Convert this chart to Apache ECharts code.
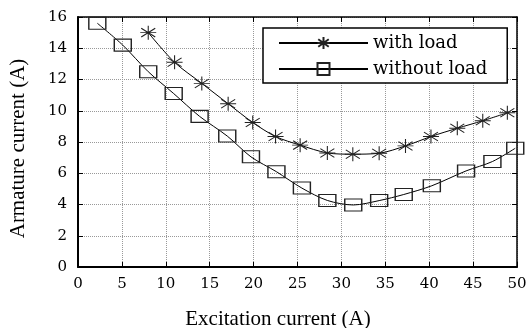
<!DOCTYPE html>
<html><head><meta charset="utf-8">
<script src="https://cdn.jsdelivr.net/npm/echarts@6/dist/echarts.min.js"></script>
<style>html,body{margin:0;padding:0;background:#fff}#c{width:530px;height:328px}</style>
</head><body><div id="c"></div>
<script>
// ---- data ----
const xTicks = [0, 5, 10, 15, 20, 25, 30, 35, 40, 45, 50];
const yTicks = [0, 2, 4, 6, 8, 10, 12, 14, 16];
const seriesNames = ['with load', 'without load'];
const withLoadX = [8.0, 11.0, 14.1, 17.1, 19.9, 22.5, 25.3, 28.4, 31.3, 34.3, 37.3, 40.2, 43.2, 46.1, 48.9];
const withLoadY = [15.0, 13.1, 11.75, 10.45, 9.25, 8.35, 7.8, 7.3, 7.22, 7.28, 7.75, 8.35, 8.88, 9.36, 9.87];
const withoutLoadX = [2.2, 5.1, 8.0, 10.9, 13.85, 17.0, 19.7, 22.6, 25.5, 28.4, 31.35, 34.3, 37.1, 40.3, 44.2, 47.2, 49.8];
const withoutLoadY = [15.6, 14.2, 12.5, 11.1, 9.64, 8.38, 7.05, 6.1, 5.05, 4.26, 3.97, 4.25, 4.64, 5.2, 6.15, 6.75, 7.6];
const xTitle = 'Excitation current (A)';
const yTitle = 'Armature current (A)';

const zip = (a, b) => a.map((v, i) => [v, b[i]]);
const starPath = 'path://M8,0 L8,16 M1,3 L15,13 M1,13 L15,3 M0,8 L16,8';
const tickFont = {fontFamily: 'DejaVu Serif', fontSize: 15, color: '#000'};
const titleFont = {fontFamily: 'Liberation Serif', fontSize: 21, color: '#000'};
const xMin = xTicks[0], xMax = xTicks[xTicks.length - 1], xInt = xTicks[1] - xTicks[0];
const yMin = yTicks[0], yMax = yTicks[yTicks.length - 1], yInt = yTicks[1] - yTicks[0];

const chart = echarts.init(document.getElementById('c'), null, {renderer: 'canvas'});
chart.setOption({
  animation: false,
  backgroundColor: '#fff',
  grid: {left: 78, right: 13, top: 17, bottom: 61, containLabel: false, outerBoundsMode: 'none'},
  legend: {
    orient: 'vertical', left: 263, top: 28,
    itemWidth: 89, itemHeight: 15, itemGap: 8,
    padding: [6, 20, 5, 15],
    backgroundColor: '#fff', borderColor: '#000', borderWidth: 1.5,
    textStyle: {fontFamily: 'DejaVu Serif', fontSize: 18, color: '#000'},
    data: seriesNames
  },
  xAxis: [{
    type: 'value', min: xMin, max: xMax, interval: xInt, position: 'bottom',
    axisLine: {show: true, onZero: false, lineStyle: {color: '#000', width: 2}},
    axisTick: {show: true, inside: true, length: 5, lineStyle: {color: '#000'}},
    axisLabel: Object.assign({margin: 10}, tickFont),
    splitLine: {show: true, lineStyle: {color: '#999', type: [1, 1], width: 1}},
    name: xTitle, nameLocation: 'middle', nameGap: 42,
    nameTextStyle: Object.assign({padding: [0, 39, 0, 0]}, titleFont)
  }, {
    type: 'value', min: xMin, max: xMax, interval: xInt, position: 'top',
    axisLine: {show: true, onZero: false, lineStyle: {color: '#000', width: 1.5}},
    axisTick: {show: true, inside: true, length: 5, lineStyle: {color: '#000'}},
    axisLabel: {show: false}, splitLine: {show: false}
  }],
  yAxis: [{
    type: 'value', min: yMin, max: yMax, interval: yInt, position: 'left',
    axisLine: {show: true, onZero: false, lineStyle: {color: '#000', width: 2}},
    axisTick: {show: true, inside: true, length: 5, lineStyle: {color: '#000'}},
    axisLabel: Object.assign({margin: 11}, tickFont),
    splitLine: {show: true, lineStyle: {color: '#999', type: [1, 1], width: 1}},
    name: yTitle, nameLocation: 'middle', nameGap: 49,
    nameTextStyle: Object.assign({padding: [0, 13, 0, 0]}, titleFont)
  }, {
    type: 'value', min: yMin, max: yMax, interval: yInt, position: 'right',
    axisLine: {show: true, onZero: false, lineStyle: {color: '#000', width: 1.5}},
    axisTick: {show: true, inside: true, length: 5, lineStyle: {color: '#000'}},
    axisLabel: {show: false}, splitLine: {show: false}
  }],
  series: [{
    name: seriesNames[0], type: 'line', xAxisIndex: 0, yAxisIndex: 0,
    data: zip(withLoadX, withLoadY), smooth: 0.3,
    symbol: starPath, symbolSize: [16, 14],
    lineStyle: {color: '#000', width: 1},
    itemStyle: {color: 'rgba(0,0,0,0)', borderColor: '#222', borderWidth: 1},
    z: 3
  }, {
    name: seriesNames[1], type: 'line', xAxisIndex: 0, yAxisIndex: 0,
    data: zip(withoutLoadX, withoutLoadY), smooth: 0.3,
    symbol: 'rect', symbolSize: [17, 12],
    lineStyle: {color: '#000', width: 1},
    itemStyle: {color: 'rgba(0,0,0,0)', borderColor: '#222', borderWidth: 1.2},
    z: 3
  }]
});
</script></body></html>
